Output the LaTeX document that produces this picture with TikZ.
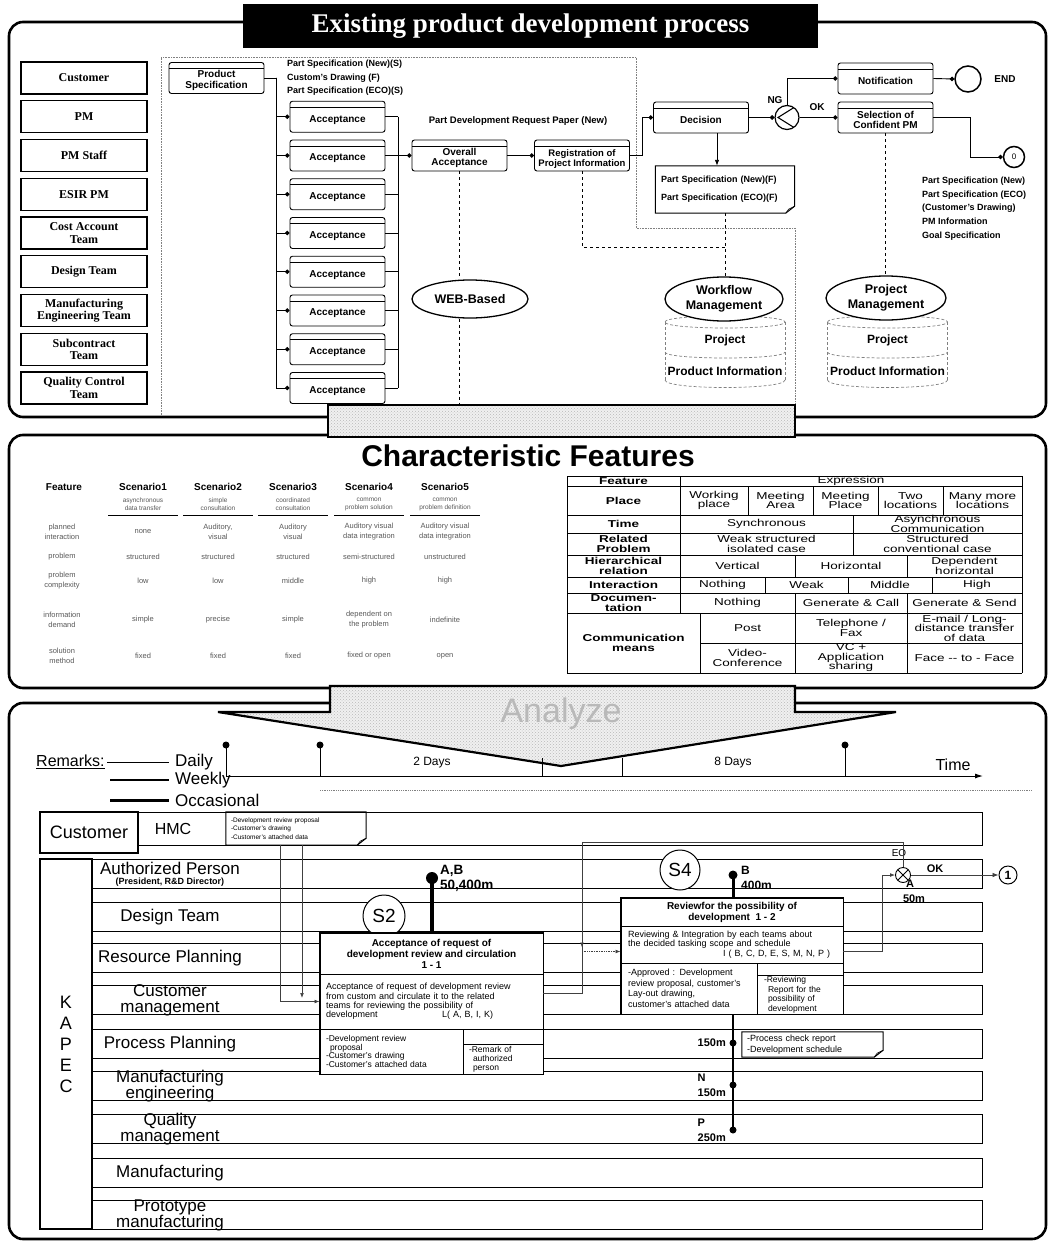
\documentclass[tikz,border=0pt]{standalone}
\usepackage{fontspec}
\setmainfont{Liberation Sans}
\newfontfamily\rolefont{Liberation Serif}
\newfontfamily\widefont[FakeStretch=1.35]{Liberation Sans}
\usetikzlibrary{arrows.meta,shapes.geometric,patterns,positioning}
\newcommand{\fsz}[2]{\fontsize{#1}{#2}\selectfont}
\newcommand{\earbox}[1]{%
  \draw[line width=1pt] (#1.north west) -- (#1.north east) -- ([yshift=7pt]#1.south east)
    -- ([xshift=-9pt]#1.south east) -- (#1.south west) -- cycle;
  \draw[line width=0.6pt] ([yshift=7pt]#1.south east) -- ([xshift=-6pt,yshift=4pt]#1.south east)
    -- ([xshift=-9pt]#1.south east);}

\begin{document}
\begin{tikzpicture}[x=1pt,y=-1pt,every node/.style={inner sep=1pt},
  panel/.style={draw,line width=2.6pt,rounded corners=14pt,fill=white},
  rolebox/.style={draw,line width=1.1pt,minimum width=126pt,minimum height=32pt,align=center,
    font=\rolefont\bfseries\fsz{12}{12.5}},
  stepbox/.style={draw,fill=white,line width=0.9pt,rounded corners=2.5pt,minimum width=95pt,
    minimum height=31pt,align=center,font=\bfseries\fsz{10}{10.5},text height=13pt,
    path picture={\draw[line width=0.8pt] ([yshift=-6pt]path picture bounding box.north west)
      -- ([yshift=-6pt]path picture bounding box.north east);}},
  twoline/.style={text height=23pt},
  feed/.style={line width=0.9pt,-{Circle[length=4.5pt]}},
  tie/.style={line width=0.9pt},
  hint/.style={dashed,line width=0.7pt},
  frameline/.style={gray,densely dotted,line width=0.6pt},
  dbline/.style={gray,densely dashed,line width=0.7pt},
  store/.style={ellipse,draw,line width=1.3pt,fill=white,align=center,font=\bfseries\fsz{12.5}{14.5}},
  note/.style={align=left,font=\bfseries\fsz{9}{13.6}},
  gate/.style={circle,draw,line width=1.2pt,minimum size=24pt,fill=white,
    path picture={\draw[line width=1.1pt] ([xshift=7pt,yshift=10pt]path picture bounding box.center)
      -- ([xshift=-9pt]path picture bounding box.center)
      -- ([xshift=7pt,yshift=-10pt]path picture bounding box.center);}},
  hatch/.style={draw,line width=2.2pt,preaction={fill=gray!12},pattern=crosshatch dots,pattern color=gray!55},
  shead/.style={font=\bfseries\fsz{10}{10}},
  ssub/.style={font=\fsz{6.5}{8},text=black!65,align=center},
  scell/.style={font=\fsz{7.5}{10},text=black!65,align=center},
  tlab/.style={font=\widefont\bfseries\fsz{10}{9.5},align=center},
  tcell/.style={font=\widefont\fsz{10}{9.5},align=center},
  lane/.style={line width=0.8pt},
  lanelab/.style={font=\fsz{17}{16},align=center},
  pbox/.style={draw,fill=white,line width=0.9pt,inner xsep=6pt,inner ysep=1pt,align=center},
  tdot/.style={circle,fill=black,inner sep=0pt,minimum size=7pt},
  link/.style={line width=0.7pt,black!75},
  tag/.style={font=\bfseries\fsz{11}{15},align=left},
  xgate/.style={circle,draw,line width=0.9pt,minimum size=15pt,fill=white,
    path picture={\draw (path picture bounding box.north west) -- (path picture bounding box.south east)
      (path picture bounding box.north east) -- (path picture bounding box.south west);}}]
\useasboundingbox (0,0) rectangle (1053,1244);
\fill[white] (0,0) rectangle (1053,1244);

\draw[panel] (9,22) rectangle (1046,417);
\node[fill=black,text=white,minimum width=575pt,minimum height=44pt,font=\rolefont\bfseries\fsz{27}{27}] (title) at (530.5,26) {Existing product development process};
\foreach \lab [count=\i] in {Customer,PM,PM Staff,ESIR PM,{Cost Account\\Team},Design Team,{Manufacturing\\Engineering Team},{Subcontract\\Team},{Quality Control\\Team}}
  \node[rolebox] (role\i) at (84,{78+(\i-1)*38.75}) {\lab};
\draw[frameline] (161,415) -- (161,57) -- (636,57) -- (636,228) -- (795,228) -- (795,405);
\node[stepbox,twoline] (prod) at (216.5,78) {Product\\Specification};
\node[note,anchor=north west] (specs) at (286,59) {Part Specification (New)(S)\\Custom's Drawing (F)\\Part Specification (ECO)(S)};
\foreach \i in {2,...,9}
  \node[stepbox] (acc\i) at (337.5,{78+(\i-1)*38.75}) {Acceptance};
\coordinate (busL) at (276,78);
\coordinate (busR) at (398,117.5);
\draw[tie] (prod.east) -- (busL);
\foreach \i in {2,...,9} {
  \draw[feed] (busL) |- (acc\i.west);
  \draw[tie] (acc\i.east) -- (acc\i.east -| busR);
}
\draw[tie] (acc2.east -| busR) -- (acc9.east -| busR);
\node[stepbox,twoline] (overall) at (459.5,155.5) {Overall\\Acceptance};
\node[stepbox,twoline,font=\bfseries\fsz{9.5}{10}] (regist) at (582,155.5) {Registration of\\Project Information};
\draw[feed] (acc3.east -| busR) -- (overall.west);
\draw[feed] (overall) -- (regist);
\node[font=\bfseries\fsz{9.5}{10}] (reqpaper) at (518,121) {Part Development Request Paper (New)};
\node[stepbox] (decide) at (701,117.5) {Decision};
\draw[feed] (regist.east) -- ++(12,0) |- (decide.west);
\node[minimum width=139pt,minimum height=47pt,text width=128pt,align=left,font=\bfseries\fsz{9}{18}] (doc) at (725,189.5) {Part Specification (New)(F)\\Part Specification (ECO)(F)};
\earbox{doc}
\coordinate (docin) at ([xshift=16pt]decide.south);
\draw[tie,-{Latex[length=6pt]}] (docin) -- (docin |- doc.north);
\node[gate] (gw) at (787,117.5) {};
\draw[feed] (decide.east) -- (gw.west);
\node[stepbox] (notif) at (885.5,78.5) {Notification};
\node[stepbox,twoline] (select) at (885.5,117.5) {Selection of\\Confident PM};
\draw[feed] (gw.north) |- (notif.west);
\draw[feed] (gw.east) -- (select.west);
\node[font=\bfseries\fsz{10}{10}] (ng) at (775,100) {NG};
\node[font=\bfseries\fsz{10}{10}] (ok) at (817,107) {OK};
\node[circle,draw,line width=1.5pt,minimum size=26pt] (endc) at (968,79) {};
\draw[feed] (notif.east) -- (endc.west);
\node[font=\bfseries\fsz{10}{10}] (endlab) at (1005,79) {END};
\node[circle,draw,line width=1.5pt,minimum size=21pt,font=\fsz{8}{8}] (zero) at (1014,157) {0};
\draw[feed] (select.east) -- ++(37,0) |- (zero.west);
\node[note,anchor=north west] (info) at (921,176) {Part Specification (New)\\Part Specification (ECO)\\(Customer's Drawing)\\PM Information\\Goal Specification};
\foreach \cx/\nm in {725/wf,887.5/pj} {
  \draw[dbline] ({\cx-60},322) -- ({\cx-60},380) ({\cx+60},322) -- ({\cx+60},380);
  \draw[dbline] ({\cx-60},322) .. controls ({\cx-60},314) and ({\cx+60},314) .. ({\cx+60},322)
    .. controls ({\cx+60},330) and ({\cx-60},330) .. ({\cx-60},322);
  \draw[dbline] ({\cx-60},352) .. controls ({\cx-60},360) and ({\cx+60},360) .. ({\cx+60},352);
  \draw[dbline] ({\cx-60},380) .. controls ({\cx-60},390) and ({\cx+60},390) .. ({\cx+60},380);
  \node[font=\bfseries\fsz{12}{12}] (\nm-proj) at (\cx,340) {Project};
  \node[font=\bfseries\fsz{12}{12}] (\nm-info) at (\cx,371) {Product Information};
}
\node[store,minimum width=118pt,minimum height=44pt] (wf) at (724,299) {Workflow\\Management};
\node[store,minimum width=120pt,minimum height=44pt] (pjm) at (886,298) {Project\\Management};
\node[store,minimum width=116pt,minimum height=38pt] (web) at (470,299) {WEB-Based};
\coordinate (webfoot) at (459.5,403);
\coordinate (wfjoin) at (725,247);
\draw[hint] (overall.south) -- (overall.south |- web.north);
\draw[hint] (web.south -| overall.south) -- (webfoot);
\draw[hint] (regist.south) |- (wfjoin);
\draw[hint] (doc.south) -- (doc.south |- wf.north);
\draw[hint] (select.south) -- (select.south |- pjm.north);

\draw[panel] (9,435) rectangle (1046,688);
\draw[hatch] (328,405) rectangle (795,437);
\node[font=\bfseries\fsz{30}{30}] (features) at (528,456) {Characteristic Features};
\node[shead] (fhead) at (64,487) {Feature};
\foreach \x/\sub [count=\k] in {143/{asynchronous\\data transfer},218/{simple\\consultation},293/{coordinated\\consultation},369/{common\\problem solution},445/{common\\problem definition}} {
  \node[shead] (scen\k) at (\x,487) {Scenario\k};
  \node[ssub] (scen\k-sub) at (\x,504) {\sub};
  \draw[line width=1pt] ({\x-35},515) -- ({\x+35},515);
}
\foreach \y/\lab/\va/\vb/\vc/\vd/\ve [count=\r] in {
  532/{planned\\interaction}/none/{Auditory,\\visual}/{Auditory\\visual}/{Auditory visual\\data integration}/{Auditory visual\\data integration},
  557/problem/structured/structured/structured/semi-structured/unstructured,
  581/{problem\\complexity}/low/low/middle/high/high,
  620/{information\\demand}/simple/precise/simple/{dependent on\\the problem}/indefinite,
  656/{solution\\method}/fixed/fixed/fixed/{fixed or open}/open} {
  \node[scell] (row\r) at (62,\y) {\lab};
  \node[scell] (row\r-1) at (143,\y) {\va};
  \node[scell] (row\r-2) at (218,\y) {\vb};
  \node[scell] (row\r-3) at (293,\y) {\vc};
  \node[scell] (row\r-4) at (369,\y) {\vd};
  \node[scell] (row\r-5) at (445,\y) {\ve};
}
\foreach \y in {476,486,515,533,555,577,593,613,673} \draw[line width=0.9pt] (567,\y) -- (1022,\y);
\draw[line width=0.9pt] (700,643) -- (1022,643);
\draw[line width=0.9pt] (567,476) -- (567,673) (1022,476) -- (1022,673);
\draw[line width=0.9pt] (680,476) -- (680,613) (700,613) -- (700,673);
\foreach \x in {748,813,878,943} \draw[line width=0.9pt] (\x,486) -- (\x,515);
\draw[line width=0.9pt] (853,515) -- (853,555);
\foreach \x in {795,907} \draw[line width=0.9pt] (\x,555) -- (\x,577) (\x,593) -- (\x,673);
\foreach \x in {765,848,932} \draw[line width=0.9pt] (\x,577) -- (\x,593);
\foreach \x/\y/\txt [count=\k] in {623.5/481/Feature,623.5/500.5/Place,623.5/524/Time,623.5/544/{Related\\Problem},623.5/566/{Hierarchical\\relation},623.5/585/Interaction,623.5/603/{Documen-\\tation},633.5/643/{Communication\\means}}
  \node[tlab] (flab\k) at (\x,\y) {\txt};
\foreach \x/\y/\txt [count=\k] in {851/481/Expression,
  714/500.5/{Working\\place},780.5/500.5/{Meeting\\Area},845.5/500.5/{Meeting\\Place},910.5/500.5/{Two\\locations},982.5/500.5/{Many more\\locations},
  766.5/524/Synchronous,937.5/524/{Asynchronous\\Communication},
  766.5/544/{Weak structured\\isolated case},937.5/544/{Structured\\conventional case},
  737.5/566/Vertical,851/566/Horizontal,964.5/566/{Dependent\\horizontal},
  722.5/585/Nothing,806.5/585/Weak,890/585/Middle,977/585/High,
  737.5/603/Nothing,851/603/{Generate \& Call},964.5/603/{Generate \& Send},
  747.5/628/Post,851/628/{Telephone /\\Fax},964.5/628/{E-mail / Long-\\distance transfer\\of data},
  747.5/658/{Video-\\Conference},851/658/{VC +\\Application\\sharing},964.5/658/{Face -- to - Face}}
  \node[tcell] (fcell\k) at (\x,\y) {\txt};

\draw[panel] (9,703) rectangle (1046,1239);
\draw[hatch,line join=miter] (330,686) -- (795,686) -- (795,712) -- (896,712) -- (561,766) -- (218,712) -- (330,712) -- cycle;
\node[font=\fsz{34}{34},text=gray!55] (analyze) at (561,714) {Analyze};
\node[anchor=west,font=\fsz{16}{16}] (remarks) at (35,762) {\underline{Remarks:}};
\draw[line width=0.5pt] (107,762) -- (169,762);
\draw[line width=1.5pt] (110,780) -- (169,780);
\draw[line width=3pt] (110,800) -- (169,800);
\foreach \y/\txt [count=\k] in {762/Daily,780/Weekly,800/Occasional}
  \node[anchor=west,font=\fsz{17}{17}] (freq\k) at (174,\y) {\txt};
\coordinate (t0) at (226,776);
\coordinate (tend) at (983,776);
\draw[line width=1pt,-{Latex[length=8pt,width=5pt]}] (t0) -- (tend);
\foreach \x [count=\k] in {226,320,845} {
  \node[tdot] (tick\k) at (\x,745) {};
  \draw[line width=1pt] (tick\k.center) -- (tick\k |- t0);
}
\draw[line width=0.8pt] (542,758) -- (542,776) (622,758) -- (622,776);
\draw[gray,densely dotted,line width=0.8pt] (320,790) -- (1032,790);
\node[font=\fsz{12}{12}] (span1) at (432,763) {2 Days};
\node[font=\fsz{12}{12}] (span2) at (733,763) {8 Days};
\node[font=\fsz{16}{16}] (timelab) at (953,765) {Time};

\node[draw,line width=1.6pt,minimum width=98pt,minimum height=41pt,font=\fsz{18}{18}] (cust) at (89,832.5) {Customer};
\draw[lane] (138,812) rectangle (982,845);
\node[font=\fsz{16}{16}] (hmc) at (173,829) {HMC};
\node[minimum width=140pt,minimum height=33pt,text width=130pt,align=left,font=\fsz{6.5}{8.5}] (hmcnote) at (296,828.5) {-Development review proposal\\-Customer's drawing\\-Customer's attached data};
\earbox{hmcnote}
\node[draw,line width=1.6pt,minimum width=52pt,minimum height=370pt,align=center,font=\fsz{18}{21}] (kapec) at (66,1044) {K\\A\\P\\E\\C};
\foreach \ly/\lab [count=\i] in {859/{Authorized Person\\[-6pt]{\bfseries\fsz{9}{10}(President, R\&D Director)}},
  902/Design Team,943/Resource Planning,985/{Customer\\management},1029/Process Planning,
  1071/{Manufacturing\\engineering},1114/{Quality\\management},1158/Manufacturing,1200/{Prototype\\manufacturing}} {
  \draw[lane] (92,\ly) rectangle (982,{\ly+29.5});
  \node[lanelab] (lane\i) at (170,{\ly+15}) {\lab};
}

\node[circle,draw,line width=1pt,minimum size=42pt,fill=white,font=\fsz{19}{19}] (s2c) at (384,916) {S2};
\node[pbox,minimum width=223pt,minimum height=41pt,font=\bfseries\fsz{10}{11}] (s2t) at (431.5,953.5) {Acceptance of request of\\development review and circulation\\1 - 1};
\node[pbox,text width=211pt,minimum height=55pt,align=left,font=\fsz{9}{9.4}] (s2b) at (431.5,1001.5) {Acceptance of request of development review\\from custom and circulate it to the related\\teams for reviewing the possibility of\\\makebox[116pt][l]{development}L( A, B, I, K)};
\node[pbox,text width=131pt,minimum height=45pt,align=left,font=\fsz{8.5}{8.7}] (s2l) at (391.5,1051.5) {-Development review\\\hspace*{4pt}proposal\\-Customer's drawing\\-Customer's attached data};
\node[pbox,minimum width=80pt,minimum height=15pt] (s2rt) at (503,1036.5) {};
\node[pbox,text width=68pt,minimum height=30pt,align=left,font=\fsz{8.5}{9}] (s2r) at (503,1059) {-Remark of\\\hspace*{4pt}authorized\\\hspace*{4pt}person};
\draw[line width=1.6pt] (s2t.north west) rectangle (s2r.south east);
\node[tdot,minimum size=12pt] (s2dot) at (432,878) {};
\draw[line width=4pt] (s2dot.center) -- (s2t.north -| s2dot);
\node[tag,anchor=west,font=\bfseries\fsz{13.5}{15}] (s2tag) at (439,878) {A,B\\50,400m};

\node[circle,draw,line width=1pt,minimum size=40pt,fill=white,font=\fsz{19}{19}] (s4c) at (680,870) {S4};
\node[pbox,minimum width=222pt,minimum height=28pt,font=\bfseries\fsz{10}{10.5}] (s4t) at (732,912.5) {Reviewfor the possibility of\\development\ \ 1 - 2};
\node[pbox,inner xsep=7pt,text width=208pt,minimum height=37pt,align=left,font=\fsz{9}{9.2}] (s4b) at (732,944.5) {Reviewing \& Integration by each teams about\\the decided tasking scope and schedule\\\hspace*{95pt}I ( B, C, D, E, S, M, N, P )};
\node[pbox,inner xsep=7pt,text width=122pt,minimum height=51pt,align=left,font=\fsz{9}{10.5}] (s4l) at (689,988.5) {-Approved : Development\\review proposal, customer's\\Lay-out drawing,\\customer's attached data};
\node[pbox,minimum width=86pt,minimum height=13pt] (s4rt) at (800,969.5) {};
\node[pbox,inner xsep=7pt,text width=72pt,minimum height=38pt,align=left,font=\fsz{8.5}{9.5}] (s4r) at (800,995) {-Reviewing\\\hspace*{4pt}Report for the\\\hspace*{4pt}possibility of\\\hspace*{4pt}development};
\draw[line width=1.6pt] (s4t.north west) rectangle (s4r.south east);
\node[tdot,minimum size=9pt] (s4dot) at (733,875) {};
\draw[line width=3pt] (s4dot.center) -- (s4t.north -| s4dot);
\node[tag,anchor=west,font=\bfseries\fsz{12}{15}] (s4tag) at (740,878) {B\\400m};
\node[tdot] (ppdot) at (733,1043) {};
\node[tdot] (ndot) at (733,1085) {};
\node[tdot] (pdot) at (733,1130) {};
\draw[line width=2.4pt] (s4l.south -| s4dot) -- (pdot.center);
\node[tag,anchor=east] (pptag) at (727,1043) {150m};
\node[tag,anchor=east] (ntag) at (727,1085) {N\\150m};
\node[tag,anchor=east] (ptag) at (727,1130) {P\\250m};
\node[minimum width=141pt,minimum height=25pt,text width=131pt,align=left,font=\fsz{9}{11}] (pcnote) at (812.5,1044.5) {-Process check report\\-Development schedule};
\earbox{pcnote}

\node[xgate] (gw2) at (903,875) {};
\node[circle,draw,line width=1pt,minimum size=18pt,font=\bfseries\fsz{12}{12}] (one) at (1008,875) {1};
\draw[link,-{Latex[length=6pt]}] (gw2.east) -- (one.west);
\node[font=\fsz{10}{10}] (eo) at (899,853) {EO};
\node[font=\bfseries\fsz{11}{11}] (oklab) at (935,869) {OK};
\node[tag,align=center] (gwtag) at (910,891) {A\\\hspace*{8pt}50m};
\coordinate (hmcA) at (280,845);
\coordinate (hmcB) at (302,845);
\coordinate (hmcBend) at (302,998);
\coordinate (riser) at (582,842);
\draw[link,-{Latex[length=5pt]}] (hmcA) |- (s2b.west);
\draw[link,-{Latex[length=5pt]}] (hmcB) -- (hmcBend);
\draw[link] ([yshift=8pt]s2b.east) -| (riser) -| (gw2.north);
\draw[link,-{Latex[length=5pt]}] ([yshift=12pt]s4b.west -| riser) -- ([yshift=-3pt]s4b.west -| riser);
\draw[link,densely dotted,-{Latex[length=5pt]}] ([yshift=-7pt]s4b.west -| riser) -- ([yshift=-7pt]s4b.west);
\draw[link,-{Latex[length=5pt]}] ([yshift=-7pt]s4b.east) -| ([xshift=-13pt]gw2.west) -- (gw2.west);
\end{tikzpicture}
\end{document}
